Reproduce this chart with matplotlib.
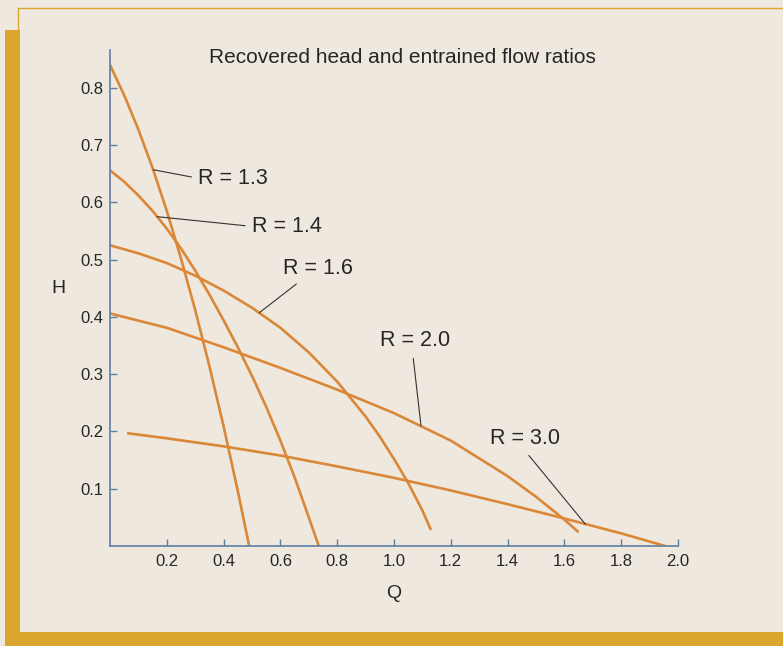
import matplotlib.pyplot as plt
from matplotlib.patches import Rectangle
from matplotlib.lines import Line2D

# values (Q = entrained flow ratio, H = recovered head ratio)
q_13 = [0.0, 0.05, 0.10, 0.15, 0.20, 0.25, 0.30, 0.35, 0.40, 0.45, 0.49]
h_13 = [0.84, 0.787, 0.727, 0.660, 0.585, 0.502, 0.412, 0.314, 0.209, 0.096, 0.0]

q_14 = [0.0, 0.05, 0.10, 0.15, 0.20, 0.25, 0.30, 0.35, 0.40, 0.45, 0.50, 0.55,
        0.60, 0.65, 0.70, 0.735]
h_14 = [0.656, 0.636, 0.612, 0.585, 0.554, 0.5195, 0.481, 0.439, 0.394, 0.347,
        0.297, 0.243, 0.184, 0.120, 0.050, 0.0]

q_16 = [0.0, 0.1, 0.2, 0.3, 0.4, 0.5, 0.6, 0.7, 0.8, 0.9, 0.95, 1.0, 1.05, 1.10, 1.13]
h_16 = [0.525, 0.511, 0.494, 0.472, 0.446, 0.416, 0.381, 0.338, 0.287, 0.226, 0.191,
        0.152, 0.110, 0.062, 0.028]

q_20 = [0.0, 0.2, 0.4, 0.6, 0.8, 1.0, 1.2, 1.4, 1.5, 1.6, 1.65]
h_20 = [0.406, 0.381, 0.347, 0.311, 0.273, 0.232, 0.184, 0.122, 0.086, 0.046, 0.024]

q_30 = [0.06, 0.2, 0.4, 0.6, 0.8, 1.0, 1.2, 1.4, 1.6, 1.8, 1.955]
h_30 = [0.197, 0.188, 0.174, 0.158, 0.139, 0.119, 0.097, 0.073, 0.048, 0.022, 0.0]

labels = ["R = 1.3", "R = 1.4", "R = 1.6", "R = 2.0", "R = 3.0"]
# where each label's leader touches its curve
label_q = [0.152, 0.166, 0.525, 1.095, 1.674]
label_h = [0.657, 0.575, 0.407, 0.210, 0.038]
# where each label sits
text_q = [0.311, 0.50, 0.609, 0.949, 1.339]
text_h = [0.642, 0.558, 0.485, 0.358, 0.187]
text_rel = [(0, 0.5), (0, 0.5), (0.29, 0), (0.47, 0), (0.48, 0)]

x_ticks = [0.2, 0.4, 0.6, 0.8, 1.0, 1.2, 1.4, 1.6, 1.8, 2.0]
y_ticks = [0.1, 0.2, 0.3, 0.4, 0.5, 0.6, 0.7, 0.8]

paper = "#efe8de"
gold = "#dca52c"
orange = "#da8738"
axis_blue = "#5d7fa2"
ink = "#262626"
font = ["Liberation Sans", "DejaVu Sans"]

plt.rcParams['font.family'] = font

W, H = 783, 646
fig = plt.figure(figsize=(W / 100, H / 100), dpi=100, facecolor=paper)

# page decoration: gold bands and thin rule
fig.add_artist(Rectangle((5 / W, 0), 15 / W, (H - 30) / H, transform=fig.transFigure,
                         facecolor=gold, edgecolor="none"))
fig.add_artist(Rectangle((5 / W, 0), 1 - 5 / W, 14 / H, transform=fig.transFigure,
                         facecolor=gold, edgecolor="none"))
fig.add_artist(Line2D([18 / W, 1], [1 - 8 / H, 1 - 8 / H], transform=fig.transFigure,
                      color=gold, lw=1))
fig.add_artist(Line2D([18 / W, 18 / W], [1 - 8 / H, 1 - 30 / H], transform=fig.transFigure,
                      color=gold, lw=1))

ax = fig.add_axes([110 / W, 1 - 546 / H, 568 / W, 496 / H])
ax.set_facecolor("none")

for q, h in [(q_13, h_13), (q_14, h_14), (q_16, h_16), (q_20, h_20), (q_30, h_30)]:
    ax.plot(q, h, color=orange, lw=1.9, solid_capstyle="butt", solid_joinstyle="round")

for i, lab in enumerate(labels):
    ax.annotate(lab, xy=(label_q[i], label_h[i]), xytext=(text_q[i], text_h[i]),
                ha="left", va="center", fontsize=15.5, color=ink,
                arrowprops=dict(arrowstyle="-", color="#333333", lw=0.8,
                                relpos=text_rel[i], shrinkA=3, shrinkB=0))

ax.set_xlim(0, 2.0)
ax.set_ylim(0, 0.866)
ax.set_xticks(x_ticks)
ax.set_xticklabels([f"{v:.1f}" for v in x_ticks])
ax.set_yticks(y_ticks)
ax.set_yticklabels([f"{v:.1f}" for v in y_ticks])

for side in ["top", "right"]:
    ax.spines[side].set_visible(False)
for side in ["left", "bottom"]:
    ax.spines[side].set_color(axis_blue)
    ax.spines[side].set_linewidth(1.2)

ax.tick_params(direction="in", length=5, width=1, color=axis_blue,
               labelcolor=ink, labelsize=12)
ax.tick_params(axis="y", pad=5)
ax.tick_params(axis="x", pad=6)

ax.set_xlabel("Q", fontsize=14, color=ink)
ax.set_ylabel("H", fontsize=14, color=ink, rotation=0)
ax.xaxis.set_label_coords(0.5, -0.079)
ax.yaxis.set_label_coords(-0.0915, 0.502)

ax.text(0.514, 0.984, "Recovered head and entrained flow ratios", transform=ax.transAxes,
        ha="center", va="center", fontsize=15, color=ink)

fig.savefig("out.png", dpi=100, facecolor=paper)
